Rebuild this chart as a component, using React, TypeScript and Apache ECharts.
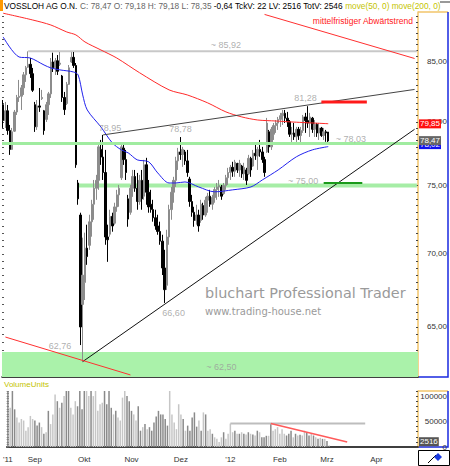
import React, { useEffect, useRef } from 'react';
import * as echarts from 'echarts';

// ---------- data ----------
const FIRST_DAY = [2011, 7, 16]; // 16 Aug 2011 (month 0-based)
const CATEGORY_COUNT = 183;
const MONTHS_DE = ['Jan', 'Feb', 'Mrz', 'Apr', 'Mai', 'Jun', 'Jul', 'Aug', 'Sep', 'Okt', 'Nov', 'Dez'];

const OPEN = [
  81.40, 80.10, 80.90, 79.30, 77.80, 79.25, 80.80, 82.00, 82.10, 82.80,
  83.90, 84.55, 84.80, 84.00, 81.40, 79.60, 81.30, 81.90, 80.90, 80.20,
  81.40, 82.30, 85.00, 84.50, 85.10, 84.80, 83.80, 82.00, 81.50, 83.10,
  85.00, 85.40, 84.70, 75.20, 72.80, 66.50, 68.00, 70.40, 70.60, 72.30,
  73.60, 74.80, 75.40, 77.80, 77.20, 76.00, 71.20, 71.40, 72.70, 72.20,
  73.40, 74.30, 75.60, 77.90, 77.00, 74.00, 73.00, 74.80, 75.70, 74.80,
  73.80, 75.40, 74.20, 76.60, 74.50, 73.60, 73.20, 72.60, 72.00, 71.60,
  70.90, 69.00, 67.80, 71.20, 73.20, 74.50, 75.40, 76.90, 77.60, 77.40,
  77.60, 76.90, 75.50, 73.80, 73.00, 72.40, 72.80, 72.40, 73.50, 72.80,
  73.90, 74.20, 73.60, 74.10, 74.70, 74.90, 74.90, 74.40, 75.00, 75.60,
  76.00, 76.40, 76.10, 76.70, 76.20, 76.50, 75.90, 76.20, 75.90, 77.10,
  76.50, 77.50, 77.30, 77.80, 77.60, 77.00, 77.60, 79.20, 78.00, 79.00,
  79.70, 79.90, 80.20, 80.50, 80.70, 80.30, 80.00, 79.00, 79.10, 78.80,
  79.40, 78.90, 79.30, 80.40, 80.10, 79.90, 80.30, 79.40, 79.80, 79.10,
  79.50, 78.90, 79.20, 79.18,
];
const HIGH = [
  81.79, 81.63, 81.38, 79.75, 79.51, 80.97, 82.21, 83.47, 83.04, 84.14,
  84.66, 85.92, 85.34, 84.49, 81.63, 81.79, 82.79, 82.63, 80.97, 81.63,
  82.46, 85.34, 85.80, 85.34, 85.60, 85.86, 83.89, 82.46, 83.30, 84.74,
  85.85, 85.86, 84.91, 75.43, 72.97, 71.15, 71.51, 72.09, 72.82, 73.93,
  75.43, 75.82, 78.32, 78.55, 78.95, 77.76, 72.09, 73.19, 72.97, 73.71,
  74.68, 75.05, 78.32, 78.32, 77.76, 74.30, 75.05, 76.20, 76.20, 75.97,
  75.82, 76.20, 76.98, 77.14, 75.43, 74.68, 73.93, 73.19, 72.82, 72.31,
  71.36, 70.28, 71.72, 73.56, 74.90, 75.67, 77.22, 77.92, 78.78, 78.00,
  77.76, 77.76, 75.67, 74.30, 73.41, 73.56, 73.19, 73.93, 73.71, 74.15,
  74.45, 74.68, 74.30, 74.90, 75.20, 75.43, 75.05, 75.20, 75.82, 76.36,
  76.59, 76.83, 76.98, 76.75, 76.98, 76.59, 76.75, 76.36, 77.37, 77.22,
  77.76, 78.32, 78.00, 78.55, 78.00, 77.22, 80.32, 79.35, 79.59, 79.91,
  80.15, 80.40, 80.73, 80.97, 80.97, 80.81, 80.15, 79.59, 79.91, 79.59,
  79.59, 79.59, 80.56, 80.73, 81.28, 80.73, 80.40, 80.15, 79.91, 79.91,
  79.59, 79.51, 79.35, 79.18,
];
const LOW = [
  79.51, 79.51, 78.96, 77.37, 77.76, 79.19, 80.56, 81.63, 80.97, 82.21,
  83.30, 84.49, 83.64, 82.46, 79.19, 79.35, 80.81, 81.79, 78.96, 79.99,
  80.56, 81.96, 84.14, 83.89, 83.89, 84.66, 81.63, 80.56, 81.38, 83.04,
  84.91, 84.49, 76.36, 73.56, 63.82, 62.76, 66.80, 69.22, 70.28, 71.22,
  72.45, 73.93, 74.68, 76.59, 75.43, 70.64, 69.43, 71.22, 71.58, 72.09,
  73.04, 73.41, 75.43, 76.59, 75.43, 71.94, 72.82, 74.15, 74.53, 73.19,
  73.56, 73.19, 73.93, 73.56, 72.97, 72.97, 72.31, 71.72, 71.36, 70.64,
  68.51, 66.60, 67.48, 70.64, 72.45, 73.71, 74.90, 76.20, 76.98, 76.44,
  76.59, 75.67, 73.41, 72.67, 71.94, 72.09, 71.58, 72.23, 72.45, 72.67,
  72.97, 73.41, 73.19, 73.71, 73.93, 74.15, 73.93, 74.30, 74.68, 75.05,
  75.43, 75.67, 75.67, 75.97, 75.67, 75.59, 75.43, 75.05, 75.82, 75.67,
  76.44, 76.98, 76.20, 77.22, 76.75, 75.67, 77.53, 77.53, 77.76, 78.55,
  79.11, 79.35, 79.59, 79.75, 79.91, 79.59, 78.79, 78.32, 78.55, 78.32,
  78.55, 78.15, 79.11, 79.11, 79.51, 78.79, 79.11, 78.79, 78.79, 78.55,
  78.79, 78.55, 78.40, 78.35,
];
const CLOSE = [
  80.10, 80.90, 79.30, 77.80, 79.20, 80.80, 82.00, 82.10, 82.80, 83.90,
  84.50, 84.80, 84.00, 82.60, 79.60, 81.30, 81.20, 82.00, 79.30, 81.40,
  82.30, 85.00, 84.50, 85.10, 84.20, 84.90, 82.00, 81.00, 83.10, 84.50,
  85.40, 84.70, 76.60, 74.00, 65.00, 68.50, 70.40, 69.80, 72.30, 73.60,
  74.80, 75.40, 78.00, 77.20, 76.00, 71.20, 71.00, 72.70, 72.00, 73.40,
  74.30, 74.80, 78.00, 77.00, 76.00, 72.50, 74.80, 75.70, 74.80, 73.80,
  75.40, 74.00, 76.60, 74.50, 73.40, 73.20, 72.60, 72.00, 71.60, 70.90,
  69.00, 67.50, 71.20, 73.20, 74.50, 75.40, 76.90, 77.60, 77.40, 77.80,
  76.90, 76.00, 73.80, 73.00, 72.40, 72.80, 72.00, 73.60, 72.80, 73.90,
  74.20, 73.60, 74.10, 74.70, 74.90, 75.00, 74.20, 75.00, 75.60, 76.00,
  76.40, 76.10, 76.80, 76.20, 76.70, 75.90, 76.40, 75.40, 77.10, 76.20,
  77.50, 77.30, 77.80, 77.60, 77.00, 76.00, 79.90, 78.00, 79.40, 79.70,
  79.90, 80.20, 80.50, 80.70, 80.30, 80.00, 79.00, 79.10, 78.80, 79.40,
  78.90, 79.30, 80.40, 80.10, 79.90, 80.40, 79.40, 79.80, 79.10, 79.50,
  78.90, 79.20, 79.11, 78.47,
];
const VOLUME = [
  140000, 77000, 130000, 74000, 58000, 48000, 55000, 52000, 32000, 39000,
  61000, 55000, 52000, 42000, 48000, 39000, 26000, 29000, 71000, 45000,
  64000, 103000, 90000, 77000, 87000, 100000, 140000, 125000, 77000, 64000,
  90000, 80000, 160000, 74000, 150000, 170000, 100000, 130000, 100000, 120000,
  71000, 84000, 87000, 125000, 84000, 130000, 77000, 64000, 71000, 58000,
  52000, 97000, 115000, 100000, 90000, 71000, 64000, 52000, 80000, 32000,
  39000, 45000, 35000, 39000, 32000, 48000, 60000, 71000, 64000, 64000,
  55000, 42000, 115000, 64000, 48000, 35000, 84000, 64000, 55000, 32000,
  42000, 32000, 58000, 68000, 40000, 52000, 32000, 68000, 64000, 32000,
  35000, 26000, 19000, 16000, 10000, 19000, 29000, 16000, 26000, 46000,
  29000, 32000, 26000, 26000, 29000, 26000, 24500, 29000, 26000, 24500,
  22600, 32000, 29000, 19000, 19000, 22000, 22000, 46000, 32000, 35000,
  39000, 26000, 35000, 26000, 22600, 26000, 32000, 19000, 26000, 22600,
  24000, 22600, 32000, 29000, 22600, 26000, 22600, 19000, 16000, 18000,
  16000, 16000, 12000, 2516,
];

// moving averages: [day index, value]
const MA50 = [
  [0, 87.18], [7, 85.43], [12, 85.34], [18, 84.74], [21, 84.49], [25, 84.32], [31, 84.14],
  [33, 83.89], [35, 82.21], [37, 80.97], [43, 79.59], [48, 78.32], [52, 77.76], [55, 77.53],
  [59, 76.98], [64, 76.83], [68, 75.97], [73, 75.20], [76, 75.20], [80, 75.28], [86, 74.90],
  [93, 74.53], [101, 74.68], [109, 74.90], [114, 75.43], [121, 76.20], [129, 77.22],
  [136, 77.76], [143, 78.02],
];
const MA200 = [
  [0, 89.30], [13, 88.69], [21, 88.24], [28, 87.62], [32, 87.36], [36, 86.74], [43, 86.04],
  [50, 85.34], [60, 84.08], [73, 82.63], [81, 82.21], [90, 81.55], [98, 80.81], [105, 80.40],
  [112, 80.15], [120, 80.07], [127, 79.99], [143, 79.85],
];

// drawn lines: [startIndex, startValue, endIndex, endValue]
const RESISTANCE = [44, 78.95, 181, 82.67];
const SUPPORT = [35, 62.76, 181, 79.4];
const DOWNTREND_LOW = [1, 64.34, 56, 61.92];
const DOWNTREND_TOP = [115, 89.19, 181, 85.3];
const LEVEL_8592 = [11, 85.92, 182, 85.92];
const LEVEL_75 = [33, 75.0, 182, 75.0];
const MARK_75 = [141, 75.2, 158, 75.2];
const MARK_8128 = [140, 81.63, 160, 81.63];
const LEVEL_7803 = 78.03;
const ZONE_6250_TOP = 63.38;
const VOL_LEVEL = [99, 46000, 159, 46000];
const VOL_TREND = [117, 46000, 151, 10000];

const ANNOTATIONS = [
  { i: 98, v: 86.48, t: '~ 85,92' },
  { i: 47, v: 79.51, t: '78,95' },
  { i: 78, v: 79.43, t: '78,78' },
  { i: 133, v: 81.96, t: '81,28' },
  { i: 153, v: 78.63, t: '~ 78,03' },
  { i: 132, v: 75.35, t: '~ 75,00' },
  { i: 75, v: 65.93, t: '66,60' },
  { i: 25, v: 63.76, t: '62,76' },
  { i: 96, v: 62.43, t: '~ 62,50' },
];

const PRICE_TICKS = [65, 70, 75, 80, 85];
const VOLUME_TICKS = [0, 50000, 100000];
const Y_MIN = 61.79;
const Y_MAX = 89.41;
const LAST_MA200 = 79.85;
const LAST_MA50 = 78.02;
const LAST_CLOSE = 78.47;
const LAST_VOLUME = 2516;

const FONT = 'Liberation Sans';

function buildCategories(): string[] {
  const out: string[] = [];
  const d = new Date(FIRST_DAY[0], FIRST_DAY[1], FIRST_DAY[2]);
  while (out.length < CATEGORY_COUNT) {
    const wd = d.getDay();
    if (wd !== 0 && wd !== 6) {
      out.push(
        `${d.getFullYear()}-${String(d.getMonth() + 1).padStart(2, '0')}-${String(d.getDate()).padStart(2, '0')}`
      );
    }
    d.setDate(d.getDate() + 1);
  }
  return out;
}

const fmtDe = (v: number) => v.toFixed(2).replace('.', ',');

export default function App() {
  const ref = useRef<HTMLDivElement>(null);
  useEffect(() => {
    if (!ref.current) return;
    const chart = echarts.init(ref.current, undefined, { renderer: 'svg' });
    const L = Math.log;
    const cats = buildCategories();
    const monthLabel = (i: number): string => {
      if (i === 0) return "'" + cats[0].slice(2, 4);
      const m = parseInt(cats[i].slice(5, 7), 10);
      const pm = parseInt(cats[i - 1].slice(5, 7), 10);
      if (m === pm) return '';
      return m === 1 ? "'" + cats[i].slice(2, 4) : MONTHS_DE[m - 1];
    };
    const seg = (s: number[], color: string, width: number, z: number, grid = 0, transform = true) => ({
      type: 'line',
      xAxisIndex: grid,
      yAxisIndex: grid,
      data: [
        [s[0], transform ? L(s[1]) : s[1]],
        [s[2], transform ? L(s[3]) : s[3]],
      ],
      symbol: 'none',
      silent: true,
      z,
      lineStyle: { color, width },
    });
    const minorTicks: number[] = [];
    for (let p = 62; p <= 89; p += 0.5) minorTicks.push(L(p));
    const volTicks: number[] = [];
    for (let v = 0; v <= 110000; v += 10000) volTicks.push(v);

    const priceBoxLabel = (text: string, bg: string, offsetY: number) => ({
      show: true,
      position: 'end',
      distance: 1,
      formatter: text,
      backgroundColor: bg,
      color: '#fff',
      fontSize: 8,
      lineHeight: 9,
      fontFamily: FONT,
      padding: [0, 1, 0, 1],
      offset: [0, offsetY],
    });
    const tickOnlyAxis = (gridIndex: number, min: number, max: number, ticks: number[]) => ({
      type: 'value',
      gridIndex,
      position: 'left',
      min,
      max,
      axisLine: { show: false },
      axisTick: { show: true, inside: true, length: 2, customValues: ticks, lineStyle: { color: '#555' } },
      axisLabel: { show: false },
      splitLine: { show: false },
    });

    const option: any = {
      animation: false,
      backgroundColor: '#ffffff',
      textStyle: { fontFamily: FONT },
      grid: [
        { left: 2, right: 32, top: 12, height: 365 },
        { left: 2, right: 32, top: 391, height: 56 },
      ],
      xAxis: [
        {
          type: 'category',
          gridIndex: 0,
          data: cats,
          axisLine: { lineStyle: { color: '#000', width: 1.5 } },
          axisTick: { show: false },
          axisLabel: { show: false },
          splitLine: { show: false },
        },
        {
          type: 'category',
          gridIndex: 1,
          data: cats,
          axisLine: { lineStyle: { color: '#000', width: 1.5 } },
          axisTick: { show: false },
          axisLabel: {
            interval: (i: number) => monthLabel(i) !== '',
            formatter: (_v: string, i: number) => monthLabel(i),
            fontSize: 8,
            color: '#333',
            margin: 8,
            fontFamily: FONT,
          },
          splitLine: { show: false },
        },
      ],
      yAxis: [
        {
          type: 'value',
          gridIndex: 0,
          position: 'right',
          min: L(Y_MIN),
          max: L(Y_MAX),
          axisLine: { show: true, lineStyle: { color: '#f2c46a', width: 1.5 } },
          axisTick: { show: true, inside: true, length: 2, customValues: minorTicks, lineStyle: { color: '#444' } },
          axisLabel: {
            customValues: PRICE_TICKS.map(L),
            formatter: (v: number) => fmtDe(Math.exp(v)),
            fontSize: 8,
            color: '#333',
            align: 'right',
            margin: 29,
            fontFamily: FONT,
          },
          splitLine: { show: false },
        },
        {
          type: 'value',
          gridIndex: 1,
          position: 'right',
          min: 0,
          max: 110000,
          axisLine: { show: true, lineStyle: { color: '#f2c46a', width: 1.5 } },
          axisTick: { show: true, inside: true, length: 2, customValues: volTicks, lineStyle: { color: '#444' } },
          axisLabel: {
            customValues: VOLUME_TICKS,
            formatter: (v: number) => String(v),
            fontSize: 8,
            color: '#333',
            align: 'right',
            margin: 29,
            fontFamily: FONT,
          },
          splitLine: { show: false },
        },
        tickOnlyAxis(0, L(Y_MIN), L(Y_MAX), minorTicks),
        tickOnlyAxis(1, 0, 110000, volTicks.concat(volTicks.map((v) => v + 5000))),
      ],
      series: [
        {
          ...seg(LEVEL_75, '#a6eda6', 4, 1),
          markArea: {
            silent: true,
            itemStyle: { color: '#aaf2aa' },
            data: [[{ yAxis: L(ZONE_6250_TOP) }, { yAxis: L(Y_MIN) }]],
          },
          markLine: {
            silent: true,
            symbol: 'none',
            label: { show: false },
            lineStyle: { color: '#a0eca0', width: 3, type: 'solid' },
            data: [{ yAxis: L(LEVEL_7803) }],
          },
        },
        seg(LEVEL_8592, '#c8c8c8', 2, 1),
        {
          type: 'candlestick',
          xAxisIndex: 0,
          yAxisIndex: 0,
          z: 3,
          silent: true,
          barWidth: 2,
          data: OPEN.map((o, i) => [L(o), L(CLOSE[i]), L(LOW[i]), L(HIGH[i])]),
          itemStyle: {
            color: '#8c8c8c',
            color0: '#000000',
            borderColor: '#8c8c8c',
            borderColor0: '#000000',
            borderWidth: 1,
          },
        },
        {
          type: 'line',
          xAxisIndex: 0,
          yAxisIndex: 0,
          data: MA50.map(([i, v]) => [i, L(v)]),
          smooth: 0.3,
          symbol: 'none',
          silent: true,
          z: 4,
          lineStyle: { color: '#2222ee', width: 1 },
        },
        {
          type: 'line',
          xAxisIndex: 0,
          yAxisIndex: 0,
          data: MA200.map(([i, v]) => [i, L(v)]),
          smooth: 0.3,
          symbol: 'none',
          silent: true,
          z: 4,
          lineStyle: { color: '#ff2a2a', width: 1 },
          markLine: {
            silent: true,
            symbol: 'none',
            lineStyle: { color: 'transparent', width: 0 },
            data: [{ yAxis: L(LAST_MA200), label: priceBoxLabel(fmtDe(LAST_MA200), '#ff1010', 0) }],
          },
        },
        seg(RESISTANCE, '#444444', 1, 5),
        seg(SUPPORT, '#111111', 1, 5),
        seg(DOWNTREND_LOW, '#ff3030', 1, 5),
        seg(DOWNTREND_TOP, '#ff3030', 1, 5),
        seg(MARK_75, '#1a9a1a', 2, 5),
        seg(MARK_8128, '#ff1a1a', 3, 5),
        {
          // price boxes on the right axis: 50-day average below, last close on top
          type: 'line',
          xAxisIndex: 0,
          yAxisIndex: 0,
          z: 7,
          silent: true,
          data: [],
          markLine: {
            silent: true,
            symbol: 'none',
            lineStyle: { color: 'transparent', width: 0 },
            data: [
              { yAxis: L(LAST_MA50), label: priceBoxLabel(fmtDe(LAST_MA50), '#1010ee', 1) },
              { yAxis: L(LAST_CLOSE), label: priceBoxLabel(fmtDe(LAST_CLOSE), '#666666', -3) },
            ],
          },
        },
        {
          type: 'scatter',
          xAxisIndex: 0,
          yAxisIndex: 0,
          z: 6,
          silent: true,
          symbol: 'circle',
          symbolSize: 1,
          itemStyle: { color: 'transparent' },
          data: ANNOTATIONS.map((a) => ({ value: [a.i, L(a.v)], name: a.t })),
          label: {
            show: true,
            position: 'inside',
            formatter: '{b}',
            color: '#9a9a9a',
            fontSize: 9,
            fontFamily: FONT,
          },
        },
        {
          type: 'bar',
          xAxisIndex: 1,
          yAxisIndex: 1,
          barWidth: 1.5,
          silent: true,
          z: 3,
          data: VOLUME.map((v, i) => ({
            value: v,
            itemStyle: { color: CLOSE[i] < OPEN[i] ? '#8a8a8a' : '#c6c6c6' },
          })),
          markLine: {
            silent: true,
            symbol: 'none',
            lineStyle: { color: 'transparent', width: 0 },
            data: [{ yAxis: LAST_VOLUME, label: priceBoxLabel(String(LAST_VOLUME), '#555555', -4) }],
          },
        },
        seg(VOL_LEVEL, '#bdbdbd', 2, 4, 1, false),
        seg(VOL_TREND, '#ff5a5a', 1.5, 5, 1, false),
      ],
      graphic: [
        { type: 'rect', shape: { x: 0, y: 0, width: 3, height: 11 }, style: { fill: '#ff9900' } },
        {
          type: 'text',
          x: 4,
          y: 6,
          style: {
            text:
              '{k|VOSSLOH AG O.N.} {g|C: 78,47 O: 79,18 H: 79,18 L: 78,35} {k|-0,64 TckV: 22 LV: 2516 TotV: 2546} {y|move(50, 0) move(200, 0)}',
            verticalAlign: 'middle',
            fontSize: 8.3,
            fontFamily: FONT,
            rich: {
              k: { fill: '#000', fontSize: 8.3, fontFamily: FONT },
              g: { fill: '#666', fontSize: 8.3, fontFamily: FONT },
              y: { fill: '#c4c400', fontSize: 8.3, fontFamily: FONT },
            },
          },
        },
        { type: 'line', shape: { x1: 440, y1: 2, x2: 450, y2: 2 }, style: { stroke: '#999', lineWidth: 2 } },
        {
          type: 'text',
          x: 413,
          y: 21,
          style: {
            text: 'mittelfristiger Abwärtstrend',
            align: 'right',
            verticalAlign: 'middle',
            fill: '#ff2020',
            fontSize: 8.5,
            fontFamily: FONT,
          },
        },
        {
          type: 'text',
          x: 4,
          y: 384,
          style: { text: 'VolumeUnits', verticalAlign: 'middle', fill: '#c4c400', fontSize: 8, fontFamily: FONT },
        },
        {
          type: 'text',
          x: 205,
          y: 293,
          style: {
            text: 'bluchart Professional Trader',
            verticalAlign: 'middle',
            fill: '#9a9a9a',
            fontSize: 14.4,
            fontFamily: 'DejaVu Sans',
          },
        },
        {
          type: 'text',
          x: 205,
          y: 311,
          style: {
            text: 'www.trading-house.net',
            verticalAlign: 'middle',
            fill: '#9a9a9a',
            fontSize: 10,
            fontFamily: 'DejaVu Sans',
          },
        },
        { type: 'line', shape: { x1: 418, y1: 12, x2: 448, y2: 12 }, style: { stroke: '#f2c46a', lineWidth: 1.5 } },
        {
          type: 'polyline',
          shape: { points: [[448, 12], [448, 377], [418, 377]] },
          style: { stroke: '#1a2ae0', lineWidth: 1.5, fill: null },
        },
        { type: 'line', shape: { x1: 418, y1: 391, x2: 448, y2: 391 }, style: { stroke: '#f2c46a', lineWidth: 1.5 } },
        {
          type: 'polyline',
          shape: { points: [[448, 391], [448, 447], [418, 447]] },
          style: { stroke: '#1a2ae0', lineWidth: 1.5, fill: null },
        },
        {
          type: 'rect',
          shape: { x: 418.5, y: 450.5, width: 31, height: 15 },
          style: { fill: '#fff', stroke: '#000', lineWidth: 1 },
        },
        { type: 'line', shape: { x1: 428, y1: 463, x2: 436, y2: 455 }, style: { stroke: '#000', lineWidth: 1 } },
        {
          type: 'polygon',
          shape: { points: [[434, 457], [438, 453], [442, 457], [438, 461]] },
          style: { fill: '#1a3ae0' },
        },
      ],
    };
    chart.setOption(option);
    return () => chart.dispose();
  }, []);
  return (
    <div
      ref={ref}
      style={{ position: 'fixed', left: 0, top: 0, width: 450, height: 466, background: '#fff' }}
    />
  );
}
